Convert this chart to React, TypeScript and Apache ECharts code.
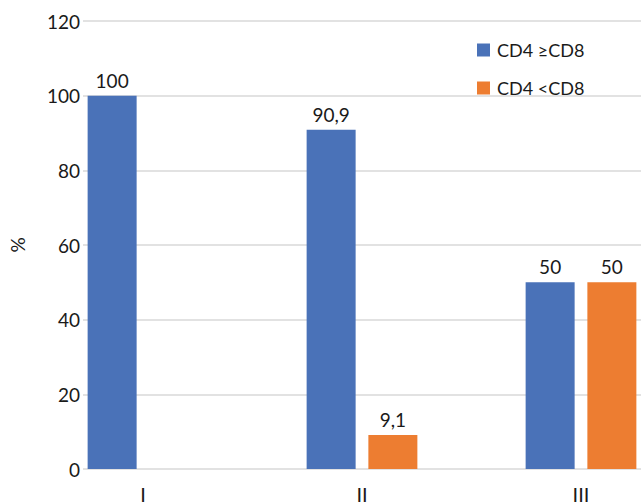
import React, { useEffect, useRef } from "react";
import * as echarts from "echarts";

const categories = ["I", "II", "III"];
const seriesNames = ["CD4 ≥CD8", "CD4 <CD8"];
const cd4GeCd8 = [100, 90.9, 50];
const cd4LtCd8 = [0, 9.1, 50];
const yTicks = { min: 0, max: 120, interval: 20 };

const FONT = "Lato, 'Open Sans', 'Noto Sans', sans-serif";
const TEXT = "#1a1a1a";

export default function App() {
  const ref = useRef<HTMLDivElement>(null);
  useEffect(() => {
    if (!ref.current) return;
    const chart = echarts.init(ref.current, undefined, { renderer: "svg" });
    const labelFmt = (p: any) =>
      p.value === 0 ? "" : String(p.value).replace(".", ",");
    chart.setOption({
      animation: false,
      backgroundColor: "#ffffff",
      textStyle: { fontFamily: FONT },
      legend: {
        orient: "vertical",
        left: 472,
        top: 36,
        itemWidth: 13,
        itemHeight: 13,
        itemGap: 20,
        icon: "rect",
        textStyle: { fontSize: 18, color: TEXT, fontFamily: FONT, padding: [0, 0, 0, 2] },
        data: seriesNames,
      },
      grid: [
        { left: 76, right: 70, top: 21, bottom: 35 },
        { left: 33.5, right: 29.5, top: 21, bottom: 35 },
      ],
      xAxis: [
        { type: "value", gridIndex: 0, show: false, min: 0, max: 1 },
        {
          type: "category",
          gridIndex: 1,
          data: categories,
          axisLine: { show: false },
          axisTick: { show: false },
          axisLabel: { fontSize: 20, color: TEXT, margin: 15, fontFamily: FONT },
        },
      ],
      yAxis: [
        {
          type: "value",
          gridIndex: 0,
          min: yTicks.min,
          max: yTicks.max,
          interval: yTicks.interval,
          name: "%",
          nameLocation: "middle",
          nameRotate: 90,
          nameGap: 56,
          nameTextStyle: { fontSize: 19, color: TEXT, fontFamily: FONT },
          axisLine: { show: false },
          axisTick: { show: false },
          axisLabel: { fontSize: 19, color: TEXT, margin: 3, fontFamily: FONT },
          splitLine: { lineStyle: { color: "#d9d9d9", width: 1.5 } },
        },
        {
          type: "value",
          gridIndex: 1,
          min: yTicks.min,
          max: yTicks.max,
          interval: yTicks.interval,
          show: false,
          splitLine: { show: false },
        },
      ],
      series: [
        {
          name: seriesNames[0],
          type: "bar",
          xAxisIndex: 1,
          yAxisIndex: 1,
          data: cd4GeCd8,
          barWidth: 49,
          barGap: "26%",
          itemStyle: { color: "#4a72b8" },
          label: {
            show: true,
            position: "top",
            distance: 6,
            fontSize: 19,
            color: TEXT,
            fontFamily: FONT,
            formatter: labelFmt,
          },
        },
        {
          name: seriesNames[1],
          type: "bar",
          xAxisIndex: 1,
          yAxisIndex: 1,
          data: cd4LtCd8,
          barWidth: 49,
          barGap: "26%",
          itemStyle: { color: "#ed7d31" },
          label: {
            show: true,
            position: "top",
            distance: 6,
            fontSize: 19,
            color: TEXT,
            fontFamily: FONT,
            formatter: labelFmt,
          },
        },
      ],
    });
    return () => chart.dispose();
  }, []);
  return (
    <div
      style={{
        position: "fixed",
        left: 0,
        top: 0,
        width: 641,
        height: 504,
        overflow: "hidden",
        background: "#fff",
      }}
    >
      <div ref={ref} style={{ width: 720, height: 504 }} />
    </div>
  );
}
